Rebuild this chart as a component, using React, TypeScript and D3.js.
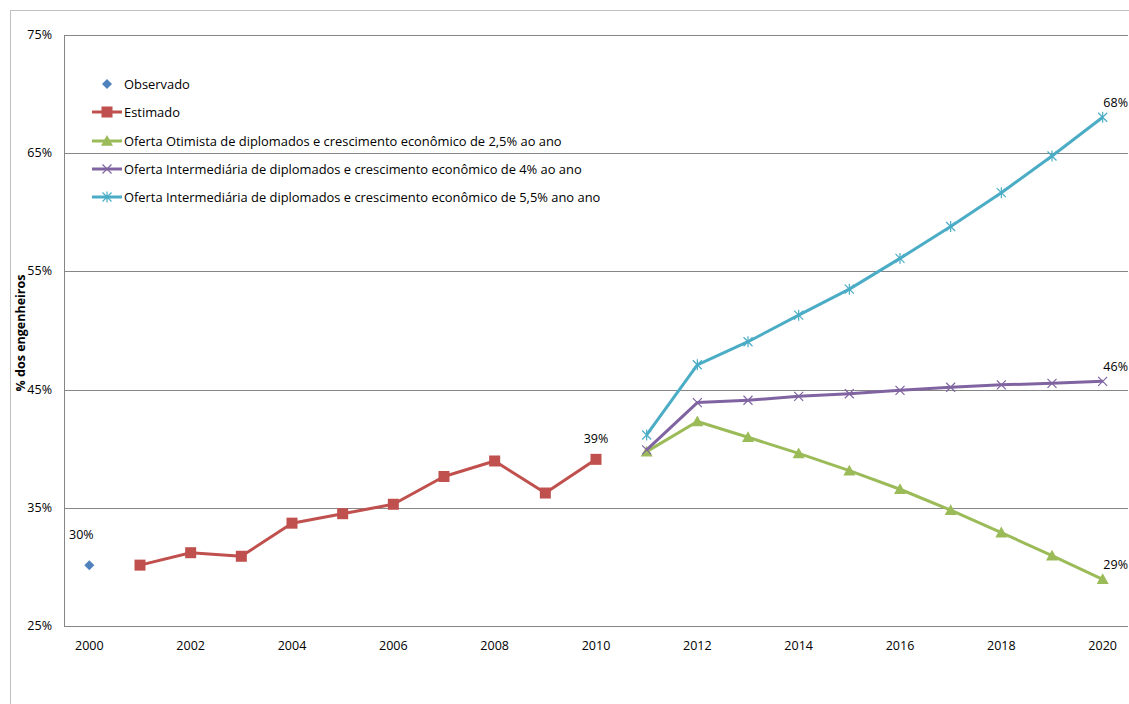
import React from "react";
import * as d3 from "d3";

const years: number[] = d3.range(2000, 2021);
const yTicks: number[] = [25, 35, 45, 55, 65, 75];
const xTickYears: number[] = [2000, 2002, 2004, 2006, 2008, 2010, 2012, 2014, 2016, 2018, 2020];

const observado: [number, number][] = [[2000, 30.15]];
const estimado: [number, number][] = [
  [2001, 30.15], [2002, 31.2], [2003, 30.9], [2004, 33.7], [2005, 34.5],
  [2006, 35.3], [2007, 37.65], [2008, 38.96], [2009, 36.25], [2010, 39.1],
];
const otimista: [number, number][] = [
  [2011, 39.75], [2012, 42.3], [2013, 40.97], [2014, 39.6], [2015, 38.14],
  [2016, 36.57], [2017, 34.8], [2018, 32.9], [2019, 30.95], [2020, 28.95],
];
const intermed4: [number, number][] = [
  [2011, 39.9], [2012, 43.9], [2013, 44.1], [2014, 44.43], [2015, 44.65],
  [2016, 44.94], [2017, 45.2], [2018, 45.4], [2019, 45.53], [2020, 45.7],
];
const intermed55: [number, number][] = [
  [2011, 41.16], [2012, 47.1], [2013, 49.05], [2014, 51.3], [2015, 53.5],
  [2016, 56.1], [2017, 58.8], [2018, 61.66], [2019, 64.76], [2020, 68.04],
];

const legendLabels: string[] = [
  "Observado",
  "Estimado",
  "Oferta Otimista de diplomados e crescimento econômico de 2,5% ao ano",
  "Oferta Intermediária de diplomados e crescimento econômico de 4% ao ano",
  "Oferta Intermediária de diplomados e crescimento econômico de 5,5% ano ano",
];

const C_OBS = "#4F81BD";
const C_EST = "#C0504D";
const C_OT = "#9BBB59";
const C_I4 = "#8064A2";
const C_I55 = "#4BACC6";

const FONT = "'Open Sans', 'Noto Sans', Arial, sans-serif";
const FS = 12.5;
const FS_LEG = 12.9;

type Kind = "diamond" | "square" | "triangle" | "x" | "star";

function Marker({ kind, x, y, color }: { kind: Kind; x: number; y: number; color: string }) {
  if (kind === "diamond") {
    const s = 5;
    return <path d={`M${x},${y - s}L${x + s},${y}L${x},${y + s}L${x - s},${y}Z`} fill={color} />;
  }
  if (kind === "square") {
    const s = 5.5;
    return <rect x={x - s} y={y - s} width={2 * s} height={2 * s} fill={color} />;
  }
  if (kind === "triangle") {
    const s = 6;
    return <path d={`M${x},${y - s}L${x + s},${y + s * 0.8}L${x - s},${y + s * 0.8}Z`} fill={color} />;
  }
  if (kind === "x") {
    const s = 4.5;
    return (
      <path d={`M${x - s},${y - s}L${x + s},${y + s}M${x + s},${y - s}L${x - s},${y + s}`} stroke={color} strokeWidth={1.2} fill="none" />
    );
  }
  const s = 4.5;
  return (
    <path
      d={`M${x - s},${y - s}L${x + s},${y + s}M${x + s},${y - s}L${x - s},${y + s}M${x},${y - s - 1}L${x},${y + s + 1}`}
      stroke={color}
      strokeWidth={1.2}
      fill="none"
    />
  );
}

export default function App() {
  const left = 64;
  const right = 1128;
  const top = 35;
  const bottom = 626;

  const xb = d3.scaleBand<number>().domain(years).range([left, right]).padding(0);
  const x = (yr: number) => (xb(yr) as number) + xb.bandwidth() / 2;
  const y = d3.scaleLinear().domain([25, 75]).range([bottom, top]);

  const line = d3
    .line<[number, number]>()
    .x((d) => x(d[0]))
    .y((d) => y(d[1]));

  const series: { data: [number, number][]; color: string; kind: Kind; lineW: number }[] = [
    { data: estimado, color: C_EST, kind: "square", lineW: 3 },
    { data: otimista, color: C_OT, kind: "triangle", lineW: 3 },
    { data: intermed4, color: C_I4, kind: "x", lineW: 3 },
    { data: intermed55, color: C_I55, kind: "star", lineW: 3 },
  ];

  const legendKinds: Kind[] = ["diamond", "square", "triangle", "x", "star"];
  const legendColors = [C_OBS, C_EST, C_OT, C_I4, C_I55];
  const legendY = [84, 112, 141, 169, 197];

  const last = (arr: [number, number][]) => arr[arr.length - 1];

  return (
    <svg
      width={1129}
      height={704}
      style={{ position: "absolute", left: 0, top: 0, background: "#fff" }}
      fontFamily={FONT}
    >
      <rect x={10.5} y={10.5} width={1130} height={700} fill="#fff" stroke="#bfbfbf" strokeWidth={1} />

      {/* gridlines */}
      {yTicks.map((t) => (
        <line key={t} x1={left} x2={right} y1={Math.round(y(t)) + 0.5} y2={Math.round(y(t)) + 0.5} stroke="#868686" strokeWidth={1} />
      ))}
      <line x1={left + 0.5} x2={left + 0.5} y1={top} y2={bottom} stroke="#868686" strokeWidth={1} />

      {/* y tick labels */}
      {yTicks.map((t) => (
        <text key={t} x={52} y={y(t) + 4} textAnchor="end" fontSize={FS} fill="#000">
          {`${t}%`}
        </text>
      ))}

      {/* x tick labels */}
      {xTickYears.map((yr) => (
        <text key={yr} x={x(yr)} y={650} textAnchor="middle" fontSize={FS} fill="#000">
          {yr}
        </text>
      ))}

      {/* y axis title */}
      <text
        transform={`translate(25,${333}) rotate(-90)`}
        textAnchor="middle"
        fontSize={FS}
        fontWeight="bold"
        fill="#000"
      >
        % dos engenheiros
      </text>

      {/* series */}
      {series.map((s, i) => (
        <g key={i}>
          <path d={line(s.data) || ""} fill="none" stroke={s.color} strokeWidth={s.lineW} strokeLinejoin="round" />
          {s.data.map((d) => (
            <Marker key={d[0]} kind={s.kind} x={x(d[0])} y={y(d[1])} color={s.color} />
          ))}
        </g>
      ))}
      {observado.map((d) => (
        <Marker key={d[0]} kind="diamond" x={x(d[0])} y={y(d[1])} color={C_OBS} />
      ))}

      {/* data labels */}
      <text x={x(observado[0][0]) - 8} y={y(observado[0][1]) - 26} textAnchor="middle" fontSize={FS} fill="#000">
        {`${Math.round(observado[0][1])}%`}
      </text>
      <text x={x(last(estimado)[0])} y={y(last(estimado)[1]) - 16} textAnchor="middle" fontSize={FS} fill="#000">
        {`${Math.round(last(estimado)[1])}%`}
      </text>
      {[intermed55, intermed4, otimista].map((s, i) => (
        <text key={i} x={x(last(s)[0]) + 13} y={y(last(s)[1]) - 10} textAnchor="middle" fontSize={FS} fill="#000">
          {`${Math.round(last(s)[1])}%`}
        </text>
      ))}

      {/* legend */}
      {legendLabels.map((lab, i) => (
        <g key={i}>
          {i > 0 && <line x1={92} x2={122} y1={legendY[i]} y2={legendY[i]} stroke={legendColors[i]} strokeWidth={3} />}
          <Marker kind={legendKinds[i]} x={107} y={legendY[i]} color={legendColors[i]} />
          <text x={124} y={legendY[i] + 4.5} fontSize={FS_LEG} fill="#000">
            {lab}
          </text>
        </g>
      ))}
    </svg>
  );
}
